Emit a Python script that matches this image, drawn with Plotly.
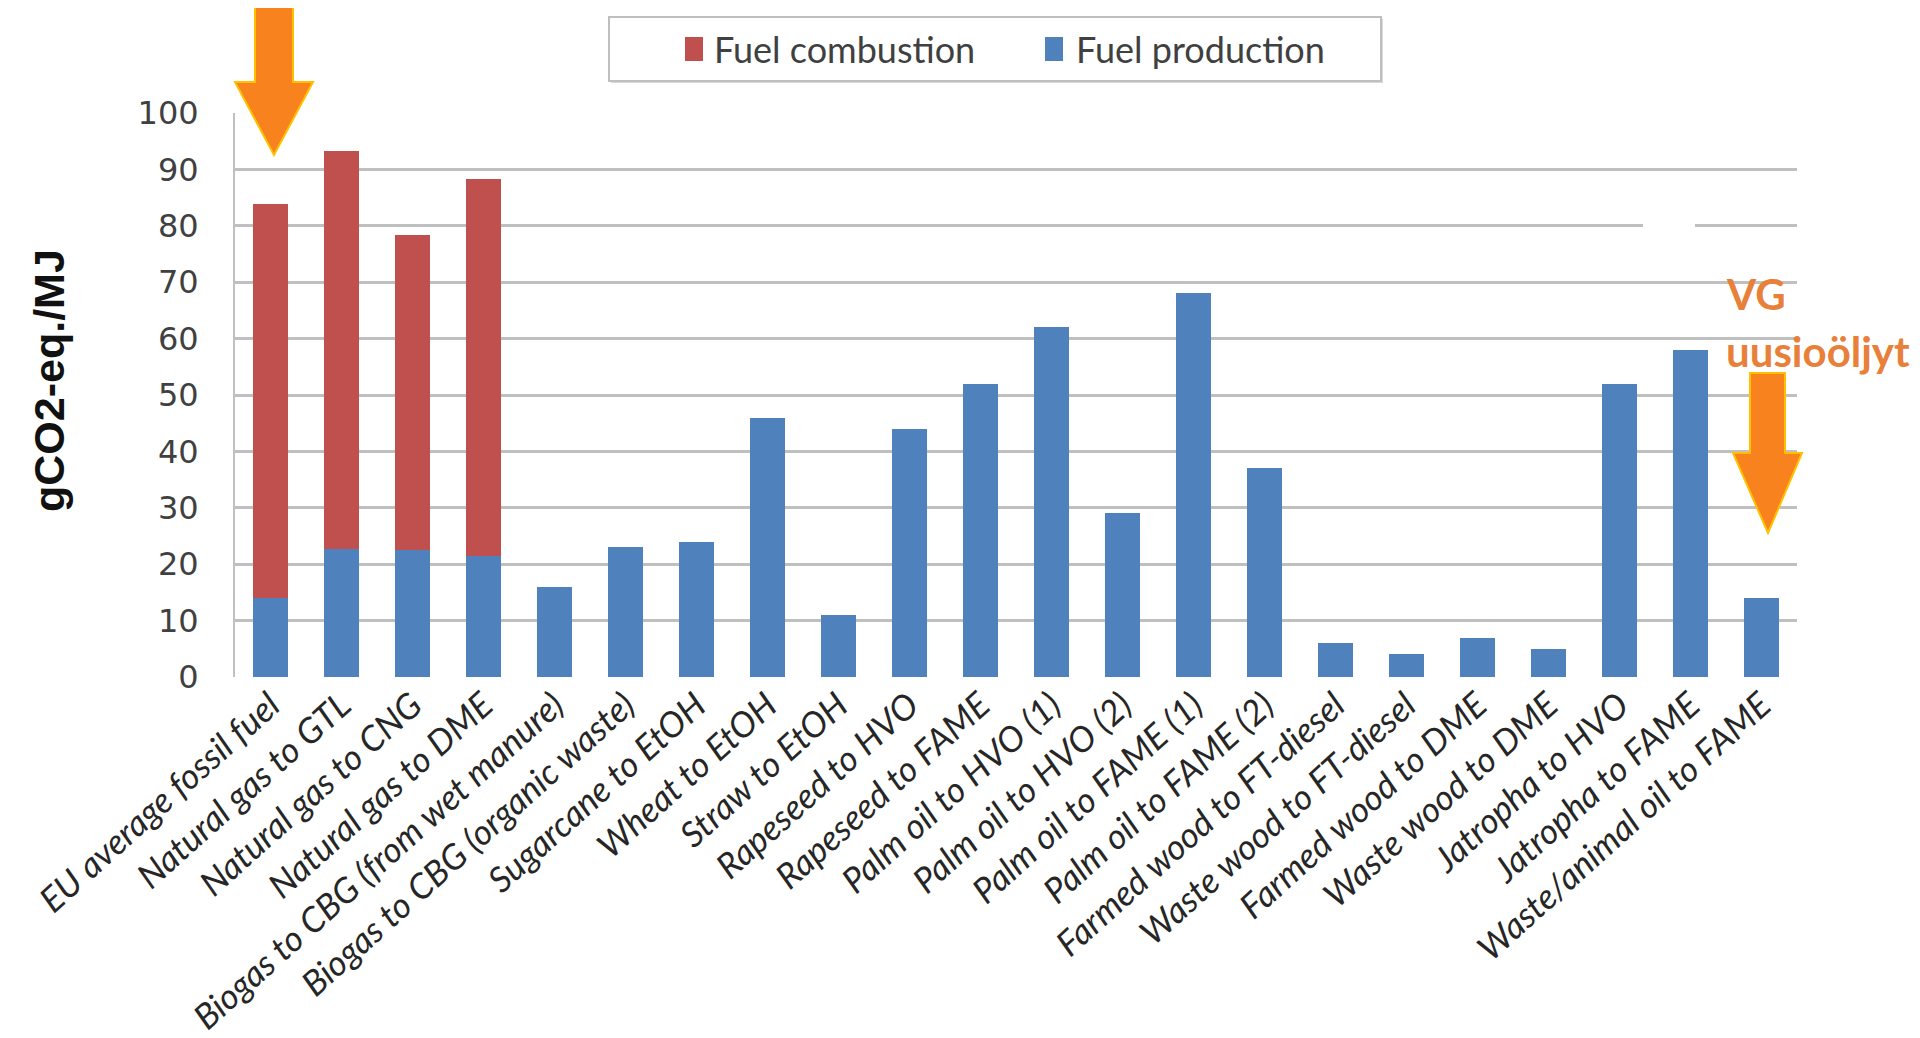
import plotly.graph_objects as go

categories = [
    "EU average fossil fuel", "Natural gas to GTL", "Natural gas to CNG", "Natural gas to DME",
    "Biogas to CBG (from wet manure)", "Biogas to CBG (organic waste)", "Sugarcane to EtOH",
    "Wheat to EtOH", "Straw to EtOH", "Rapeseed to HVO", "Rapeseed to FAME",
    "Palm oil to HVO (1)", "Palm oil to HVO (2)", "Palm oil to FAME (1)", "Palm oil to FAME (2)",
    "Farmed wood to FT-diesel", "Waste wood to FT-diesel", "Farmed wood to DME",
    "Waste wood to DME", "Jatropha to HVO", "Jatropha to FAME", "Waste/animal oil to FAME",
]
fuel_production = [14, 22.7, 22.5, 21.5, 16, 23, 24, 46, 11, 44, 52, 62, 29, 68, 37, 6, 4, 7, 5, 52, 58, 14]
fuel_combustion = [69.8, 70.5, 55.8, 66.8] + [None] * 18
y_ticks = [0, 10, 20, 30, 40, 50, 60, 70, 80, 90, 100]

COLOR_PROD = "#4F81BD"
COLOR_COMB = "#C0504D"

W, H = 1920, 1038
OFF = 8  # the page body's default margin shifts the figure by this much
L, R, T, B = 235, 1797, 113, 677


def px(x):
    return (x - L) / (R - L)


def py(y):
    return (B - y) / (B - T)


def poly(points):
    return "M" + " L".join(f"{px(x):.5f},{py(y):.5f}" for x, y in points) + " Z"


def rect(x0, y0, x1, y1, **kw):
    return dict(type="rect", xref="paper", yref="paper", x0=px(x0), x1=px(x1), y0=py(y1), y1=py(y0), **kw)


fig = go.Figure()
fig.add_trace(go.Bar(x=categories, y=fuel_production, name="Fuel production",
                     marker=dict(color=COLOR_PROD, line=dict(width=0))))
fig.add_trace(go.Bar(x=categories, y=fuel_combustion, name="Fuel combustion",
                     marker=dict(color=COLOR_COMB, line=dict(width=0))))

arrow_fill = "#F7821E"
arrow_line = "#FFC000"
left_arrow = [(255, 6), (293, 6), (293, 82), (313, 82), (274, 155), (235, 82), (255, 82)]
right_arrow = [(1750, 373), (1785, 373), (1785, 453), (1802, 453), (1768, 533), (1733, 453), (1750, 453)]

shapes = [
    dict(type="path", xref="paper", yref="paper", path=poly(left_arrow),
         fillcolor=arrow_fill, line=dict(color=arrow_line, width=2), layer="above"),
    dict(type="path", xref="paper", yref="paper", path=poly(right_arrow),
         fillcolor=arrow_fill, line=dict(color=arrow_line, width=2), layer="above"),
    rect(1643, 222, 1695, 229, fillcolor="white", line=dict(width=0), layer="above"),
    # legend frame and enlarged legend swatches
    rect(611, 19, 1383, 83, fillcolor="#D9D9D9", line=dict(width=0), layer="above"),
    rect(609, 17, 1381, 81, fillcolor="white", line=dict(color="#BFBFBF", width=2), layer="above"),
    rect(685, 37, 703, 61, fillcolor=COLOR_COMB, line=dict(width=0), layer="above"),
    rect(1045, 37, 1063, 61, fillcolor=COLOR_PROD, line=dict(width=0), layer="above"),
]

annotations = [
    dict(text="<b>gCO2-eq./MJ</b>", xref="paper", yref="paper", x=px(49), y=py(381),
         textangle=-90, showarrow=False, xanchor="center", yanchor="middle",
         font=dict(family="Liberation Sans", size=43, color="#111111")),
    dict(text="<b>VG</b>", xref="paper", yref="paper", x=px(1724), y=py(294),
         showarrow=False, xanchor="left", yanchor="middle",
         font=dict(family="Lato", size=42, color="#E8803A")),
    dict(text="<b>uusioöljyt</b>", xref="paper", yref="paper", x=px(1724), y=py(351),
         showarrow=False, xanchor="left", yanchor="middle",
         font=dict(family="Lato", size=42, color="#E8803A")),
]

fig.update_layout(
    width=W, height=H,
    margin=dict(l=L - OFF, r=W - R + OFF, t=T - OFF, b=H - B + OFF, pad=0, autoexpand=False),
    paper_bgcolor="white", plot_bgcolor="white",
    barmode="stack", bargap=0.5,
    showlegend=True,
    legend=dict(orientation="h", traceorder="reversed",
                x=px(674), xanchor="left", y=py(49), yanchor="middle",
                borderwidth=0, bgcolor="rgba(0,0,0,0)",
                font=dict(family="Lato", size=36, color="#404040"),
                entrywidth=317, itemclick=False),
    shapes=shapes,
    annotations=annotations,
    xaxis=dict(tickangle=-42, automargin=False,
               tickfont=dict(family="Lato", size=35, color="#262626", style="italic"),
               showgrid=False, showline=False, ticks="", zeroline=False),
    yaxis=dict(range=[0, 100], tickvals=y_ticks, automargin=False,
               showgrid=True, gridcolor="#C0C0C0", gridwidth=3,
               zeroline=False, showline=True, linecolor="#C0C0C0", linewidth=2,
               ticks="", ticklabelstandoff=28,
               tickfont=dict(family="DejaVu Sans", size=32, color="#404040")),
)

fig.write_html("out.html")
